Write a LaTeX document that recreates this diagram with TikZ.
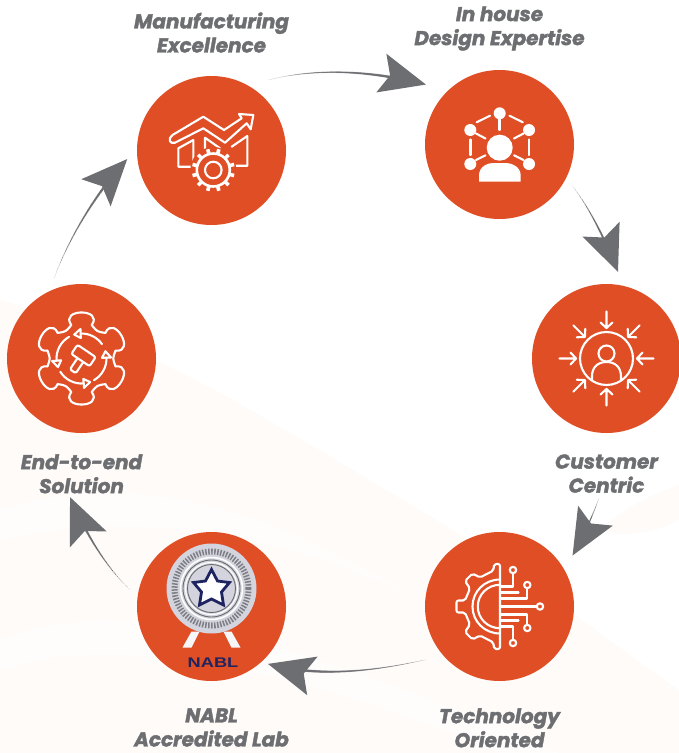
\documentclass[tikz,border=0pt]{standalone}
\usepackage{fontspec}
\setmainfont{Poppins}[BoldItalicFeatures={FakeBold=1.8}]
\newfontfamily\logofont{Liberation Sans}
\usetikzlibrary{arrows.meta,positioning,decorations.markings}
\definecolor{flame}{HTML}{E04E26}
\definecolor{flowgray}{HTML}{6D6E71}
\definecolor{paleband}{HTML}{FEFBF9}
\definecolor{palestreak}{HTML}{FFFDFC}
\definecolor{sealgray}{HTML}{D3D4DD}
\definecolor{sealnavy}{HTML}{1E2460}
\tikzset{
    %Define style for circles
    station/.style={
           circle,
           fill=flame,
           minimum size=149pt,
           inner sep=0pt},
    %Define style for labels
    caption/.style={
           align=center,
           inner sep=0pt,
           text=flowgray,
           font=\fontsize{20}{24}\selectfont\bfseries\itshape},
    %Define style for icon lines
    icon/.style={
           draw=white,
           line width=2.1pt,
           line join=round,
           line cap=round},
    % Define arrow style: start of stroke, position of tip
    flow/.style 2 args={
           postaction={decorate},
           decoration={markings,
             mark=between positions #1 and #2-0.04 step 1pt with {
               \fill[flowgray] (0,0) circle
                 ({0.15pt+1.7pt*(\pgfkeysvalueof{/pgf/decoration/mark info/distance from start}/\pgfdecoratedpathlength-#1)/(#2-#1)});},
             mark=at position #2 with {
               \fill[flowgray] (0,0)--(-46,-20)--(-37,0)--(-46,20)--cycle;}}}
}
\begin{document}
\begin{tikzpicture}[x=1pt,y=-1pt]
\useasboundingbox (0,0) rectangle (679,753);
% pale waves behind
\fill[paleband] (0,300) .. controls (150,340) and (300,440) .. (420,510)
   .. controls (520,570) and (620,650) .. (679,690) -- (679,753) -- (0,753) -- cycle;
\fill[paleband] (679,485) .. controls (650,495) and (620,510) .. (600,530)
   .. controls (630,540) and (660,530) .. (679,520) -- cycle;
\fill[palestreak] (0,510) .. controls (120,470) and (260,500) .. (420,600)
   .. controls (280,530) and (130,510) .. (0,540) -- cycle;
\fill[palestreak] (0,640) .. controls (120,590) and (300,640) .. (560,753)
   -- (500,753) .. controls (300,670) and (120,630) .. (0,670) -- cycle;

\node[station] (mfg) at (211.5,150.5) {};
\node[station] (design) at (499.5,144.5) {};
\node[station] (customer) at (606.5,358.5) {};
\node[station] (tech) at (499.5,606.5) {};
\node[station] (nabl) at (211.5,606.5) {};
\node[station] (solution) at (81.5,358.5) {};

\node[caption, above=23pt of mfg] (mfglabel) {Manufacturing\\Excellence};
\node[caption, above=19pt of design] (designlabel) {In house\\Design Expertise};
\node[caption, below=21pt of customer] (customerlabel) {Customer\\Centric};
\node[caption, below=27pt of tech] (techlabel) {Technology\\Oriented};
\node[caption, below=27pt of nabl] (nabllabel) {NABL\\Accredited Lab};
\node[caption, below=21pt of solution] (solutionlabel) {End-to-end\\Solution};

\path[flow={.1}{.885}] (mfg.60) .. controls (305,66) and (375,68) .. (design.134);
\path[flow={.08}{.88}] (design.-27) .. controls (590,205) and (610,250) .. (customer.77);
\path[flow={.46}{.89}] (customer.-83) .. controls (612,470) and (590,530) .. (tech.30);
\path[flow={.1}{.96}] (tech.221) .. controls (385,670) and (320,680) .. (nabl.-48);
\path[flow={.05}{.605}] (nabl.172) .. controls (105,570) and (70,515) .. (solution.-120);
\path[flow={.08}{.915}] (solution.115) .. controls (62,250) and (95,190) .. (mfg.179);

% manufacturing icon
\begin{scope}[shift={(mfg)},icon]
\draw[fill=none] (-39,-15.5) -- (-8.2,-33.8) -- (12.5,-20.5) -- (30.2,-32.2) -- (27.5,-36.5)
   -- (41.8,-35.5) -- (39.2,-21.2) -- (35.2,-27.2) -- (13.5,-7.8) -- (-8.2,-22.2) -- (-36.5,-7.8)
   .. controls (-42,-6) and (-44,-12) .. (-39,-15.5);
\draw (-19,16.2) -- (-33.2,16.2) -- (-33.2,-2.2) -- (-18.2,-10.5) -- (-18.2,10);
\draw (-6.5,-0.5) -- (-6.5,-12.8) -- (8.5,-2.2);
\draw (20.2,-3.8) -- (35.8,-14.5) -- (35.8,15.2) -- (20.2,15.2);
\fill[flame,draw=none] (1.8,19.5) circle[radius=23];
\begin{scope}[shift={(1.8,19.5)}]
\draw (0,0) circle[radius=8.3];
\draw[line width=2.6pt] (0,0) circle[radius=16.5];
\foreach \a in {15,45,...,345}
  \draw[line width=3.6pt,line cap=butt] (\a:16) -- (\a:21.5);
\end{scope}
\end{scope}

% design icon
\begin{scope}[shift={(design)},icon]
\fill[white,draw=none] (0.2,-31.2) circle[radius=6] (-29.2,-14.5) circle[radius=6] (29.5,-14.5) circle[radius=6]
   (-29.2,19.5) circle[radius=6] (29.5,19.5) circle[radius=6] (0.2,3.2) circle[radius=13];
\fill[white,draw=none] (-20.5,37.2) -- (-20.5,31) .. controls (-20.5,22) and (-12,18) .. (-4,18.5)
   -- (4,18.5) .. controls (12,18) and (21.2,22) .. (21.2,31) -- (21.2,37.2) -- cycle;
\draw (0,-26) -- (0,-14.5);
\draw (-9.5,-28.8) -- (-22.8,-22.2) (10,-28.8) -- (23.3,-22.2);
\draw (-29,-5) -- (-29,10.5) (29.5,-5) -- (29.5,10.5);
\draw (-23.5,-11) -- (-14,-6) (24,-11) -- (14.5,-6);
\draw (-23.5,15.5) -- (-14,10.8) (24,15.5) -- (14.5,10.8);
\end{scope}

% customer icon
\begin{scope}[shift={(customer)},icon]
\draw (0,0) circle[radius=26.5];
\draw (0,-5) circle[radius=8];
\draw (-14.5,21) -- (-14.5,18) .. controls (-14.5,8) and (-8,3.5) .. (0,3.5)
   .. controls (8,3.5) and (14.5,8) .. (14.5,18) -- (14.5,21);
\foreach \a in {0,45,...,315}
  \draw[rotate=\a] (-47,0) -- (-30.5,0) (-36,-6) -- (-30.5,0) -- (-36,6);
\end{scope}

% technology icon
\begin{scope}[shift={(tech)},icon]
\draw[rounded corners=2pt] (0.5,-42.5) -- (-5.5,-42.5) -- (-6,-36) -- (-19.5,-29) -- (-27,-33) -- (-34.5,-25.5)
   -- (-29.5,-18) -- (-34.5,-6) -- (-43,-6) -- (-43,6) -- (-34.5,6) -- (-29.5,18) -- (-34.5,25.5)
   -- (-27,33) -- (-19.5,29) -- (-6,36) -- (-5.5,42.5) -- (0.5,42.5) -- cycle;
\draw (0.5,-27) .. controls (-15,-27) and (-27,-15) .. (-27,0) .. controls (-27,15) and (-15,27) .. (0.5,27);
\draw (0.5,-21.7) .. controls (-12,-21.7) and (-21.7,-12) .. (-21.7,0) .. controls (-21.7,12) and (-12,21.7) .. (0.5,21.7);
\draw (13.5,-33) -- (13.5,-20) -- (1,-20) (13.5,33) -- (13.5,20) -- (1,20);
\draw (27.8,-18) -- (27.8,-8) -- (1,-8) (27.8,18) -- (27.8,8) -- (1,8);
\draw (1,-14) -- (19,-14) (1,14) -- (19,14);
\draw (1,0) -- (37,0);
\draw (13.5,-36.5) circle[radius=3.2] (27.8,-21.5) circle[radius=3.2] (40.5,0) circle[radius=3.2]
   (27.8,21.5) circle[radius=3.2] (13.5,36.5) circle[radius=3.2];
\end{scope}

% accreditation seal
\begin{scope}[shift={(nabl)}]
\fill[white!80!sealgray] (-20,25) -- (-12,25) -- (-20,41) -- (-29,41) -- cycle;
\fill[white!80!sealgray] (20,25) -- (12,25) -- (20,41) -- (29,41) -- cycle;
\fill[sealgray] (0,-18) circle[radius=45];
\draw[sealgray!60!black,line width=6pt,dash pattern=on 1.5pt off 1.5pt] (0,-18) circle[radius=37];
\draw[white,line width=1.5pt] (0,-18) circle[radius=31];
\draw[sealgray!50!black,line width=.9pt] (0,-18) circle[radius=28.5];
\draw[sealgray!50!black,line width=.9pt] (0,-18) circle[radius=24];
\draw[white,line width=1.2pt] (0,-18) circle[radius=26];
\draw[sealnavy,line width=2.8pt,line join=miter,fill=white]
  (0,-37) -- (6,-25.5) -- (18,-24) -- (10,-14.5) -- (12,-1.5) -- (0,-7.5) -- (-12,-1.5) -- (-10,-14.5) -- (-18,-24) -- (-6,-25.5) -- cycle;
\node[xscale=1.3,inner sep=0pt,text=sealnavy,font=\logofont\bfseries\fontsize{14}{14}\selectfont] (nablmark) at (1.5,56) {NABL};
\end{scope}

% end-to-end icon
\begin{scope}[shift={(solution)},icon]
\foreach \t in {30,90,...,330} {
  \draw ({\t-17}:35) .. controls ({\t-24}:55) and ({\t+24}:55) .. ({\t+17}:35);
  \draw ({\t+17}:35) .. controls ({\t+30}:31) .. ({\t+43}:35);
}
\foreach \s/\e in {60/-2,-35/-92,240/175,148/85} {
  \draw (\s:25) arc[start angle=\s,end angle=\e,radius=25];
  \draw (\e:20.5) -- ({\e-15}:25) -- (\e:29.5) -- cycle;
}
\begin{scope}[shift={(2,-3)},rotate=-34]
\draw[rounded corners=2pt] (-11,-5.5) rectangle (11,5.5);
\draw[rounded corners=1.5pt] (-3.5,5.5) -- (-3.5,19) -- (3.5,19) -- (3.5,5.5);
\end{scope}
\end{scope}
\end{tikzpicture}
\end{document}
